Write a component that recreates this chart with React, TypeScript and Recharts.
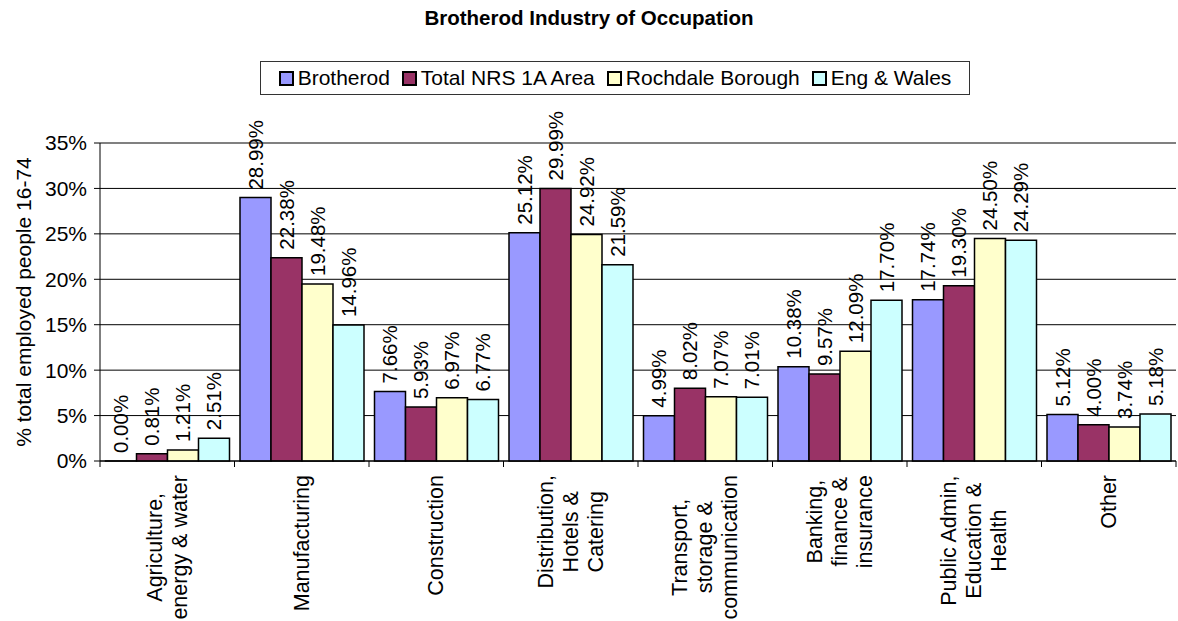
import React from "react";
import {
  Bar,
  BarChart,
  CartesianGrid,
  LabelList,
  ReferenceLine,
  XAxis,
  YAxis,
} from "recharts";

const CATEGORIES = [
  "Agriculture,\nenergy & water",
  "Manufacturing",
  "Construction",
  "Distribution,\nHotels &\nCatering",
  "Transport,\nstorage &\ncommunication",
  "Banking,\nfinance &\ninsurance",
  "Public Admin,\nEducation &\nHealth",
  "Other",
];

const BROTHEROD = [0.0, 28.99, 7.66, 25.12, 4.99, 10.38, 17.74, 5.12];
const TOTAL_NRS = [0.81, 22.38, 5.93, 29.99, 8.02, 9.57, 19.3, 4.0];
const ROCHDALE = [1.21, 19.48, 6.97, 24.92, 7.07, 12.09, 24.5, 3.74];
const ENG_WALES = [2.51, 14.96, 6.77, 21.59, 7.01, 17.7, 24.29, 5.18];

const Y_TICKS = [0, 5, 10, 15, 20, 25, 30, 35];

const SERIES = [
  { key: "brotherod", name: "Brotherod", fill: "#9999FF" },
  { key: "totalNrs", name: "Total NRS 1A Area", fill: "#993366" },
  { key: "rochdale", name: "Rochdale Borough", fill: "#FFFFCC" },
  { key: "engWales", name: "Eng & Wales", fill: "#CCFFFF" },
];

const data = CATEGORIES.map((c, i) => ({
  name: c,
  brotherod: BROTHEROD[i],
  totalNrs: TOTAL_NRS[i],
  rochdale: ROCHDALE[i],
  engWales: ENG_WALES[i],
}));

const FONT = "Arial, 'Liberation Sans', sans-serif";
const FS = 21;
const VAL_FS = 20.5;
const CAT_FS = 21.5;
const W = 1178;
const H = 621;
const MARGIN = { top: 143, right: 2, left: 0, bottom: 0 };
const Y_W = 100;
const BAND = (W - MARGIN.right - MARGIN.left - Y_W) / CATEGORIES.length;

let ctx: CanvasRenderingContext2D | null = null;
function textWidth(s: string) {
  if (!ctx) {
    ctx = document.createElement("canvas").getContext("2d");
    if (ctx) ctx.font = `${CAT_FS}px Arial, 'Liberation Sans'`;
  }
  return ctx ? ctx.measureText(s).width : s.length * CAT_FS * 0.55;
}

function CategoryTick(props: any) {
  const { x, y, payload, index } = props;
  const lines = String(payload.value).split("\n");
  const maxW = Math.max(...lines.map(textWidth));
  const cy = y + 14 + maxW / 2;
  const lh = 25;
  const left = x - BAND / 2;
  return (
    <g>
      <line x1={left} x2={left} y1={y} y2={y + 6} stroke="#000" />
      {index === CATEGORIES.length - 1 ? (
        <line x1={x + BAND / 2} x2={x + BAND / 2} y1={y} y2={y + 6} stroke="#000" />
      ) : null}
      {lines.map((l, i) => {
        const lx = x + (i - (lines.length - 1) / 2) * lh;
        return (
          <text
            key={i}
            x={lx}
            y={cy}
            transform={`rotate(-90 ${lx} ${cy})`}
            textAnchor="middle"
            dominantBaseline="central"
            fontSize={CAT_FS}
            fontFamily={FONT}
            fill="#000"
          >
            {l}
          </text>
        );
      })}
    </g>
  );
}

function ValueLabel(props: any) {
  const { x, y, width, height, value } = props;
  const cx = x + width / 2;
  // top edge of the bar, whichever way round recharts hands it over
  const top = Math.min(y, y + (height || 0));
  const ty = top - 8;
  return (
    <text
      x={cx}
      y={ty}
      transform={`rotate(-90 ${cx} ${ty})`}
      textAnchor="start"
      dominantBaseline="central"
      fontSize={VAL_FS}
      fontFamily={FONT}
      fill="#000"
    >
      {Number(value).toFixed(2)}%
    </text>
  );
}

function YAxisTitle(props: any) {
  const { viewBox } = props;
  const cx = 23;
  const cy = viewBox.y + viewBox.height / 2;
  return (
    <text
      x={cx}
      y={cy}
      transform={`rotate(-90 ${cx} ${cy})`}
      textAnchor="middle"
      dominantBaseline="central"
      fontSize={FS}
      fontFamily={FONT}
      fill="#000"
    >
      % total employed people 16-74
    </text>
  );
}

export default function App() {
  return (
    <div style={{ position: "relative", width: W, height: H, fontFamily: FONT, background: "#fff" }}>
      <style>{`body{margin:0}`}</style>
      <div
        style={{
          position: "absolute",
          top: 6,
          left: 0,
          width: W,
          textAlign: "center",
          fontWeight: "bold",
          fontSize: 20.5,
          lineHeight: "24px",
        }}
      >
        Brotherod Industry of Occupation
      </div>
      <div
        style={{
          position: "absolute",
          top: 61,
          left: 260,
          width: 708,
          height: 32,
          border: "1px solid #333",
          display: "flex",
          alignItems: "center",
          justifyContent: "center",
          fontSize: FS,
          whiteSpace: "nowrap",
        }}
      >
        {SERIES.map((s, i) => (
          <div key={s.key} style={{ display: "flex", alignItems: "center", marginLeft: i ? 12 : 0 }}>
            <span
              style={{
                display: "inline-block",
                width: 11,
                height: 11,
                border: "2px solid #000",
                background: s.fill,
                marginRight: 4,
              }}
            />
            {s.name}
          </div>
        ))}
      </div>
      <div style={{ position: "absolute", top: 0, left: 0 }}>
        <BarChart
          width={W}
          height={H}
          data={data}
          margin={MARGIN}
          barCategoryGap={5.5}
          barGap={0}
        >
          <CartesianGrid vertical={false} stroke="#000" />
          <ReferenceLine y={35} stroke="#808080" strokeWidth={1.5} />
          <XAxis
            dataKey="name"
            interval={0}
            height={H - 461 - MARGIN.bottom}
            tick={<CategoryTick />}
            tickLine={false}
            tickSize={0}
            tickMargin={0}
            axisLine={{ stroke: "#000" }}
          />
          <YAxis
            width={Y_W}
            domain={[0, 35]}
            ticks={Y_TICKS}
            interval={0}
            tickFormatter={(v) => `${v}%`}
            tick={{ fontSize: FS, fill: "#000", fontFamily: FONT }}
            tickSize={6}
            tickMargin={7}
            axisLine={{ stroke: "#000" }}
            tickLine={{ stroke: "#000" }}
            label={<YAxisTitle />}
          />
          <YAxis
            yAxisId="right"
            orientation="right"
            width={0}
            domain={[0, 35]}
            tick={false}
            tickLine={false}
            axisLine={{ stroke: "#808080", strokeWidth: 1.5 }}
          />
          {SERIES.map((s) => (
            <Bar
              key={s.key}
              dataKey={s.key}
              name={s.name}
              fill={s.fill}
              stroke="#000"
              strokeWidth={1.5}
              minPointSize={0.01}
              isAnimationActive={false}
            >
              <LabelList dataKey={s.key} content={<ValueLabel />} />
            </Bar>
          ))}
        </BarChart>
      </div>
    </div>
  );
}
